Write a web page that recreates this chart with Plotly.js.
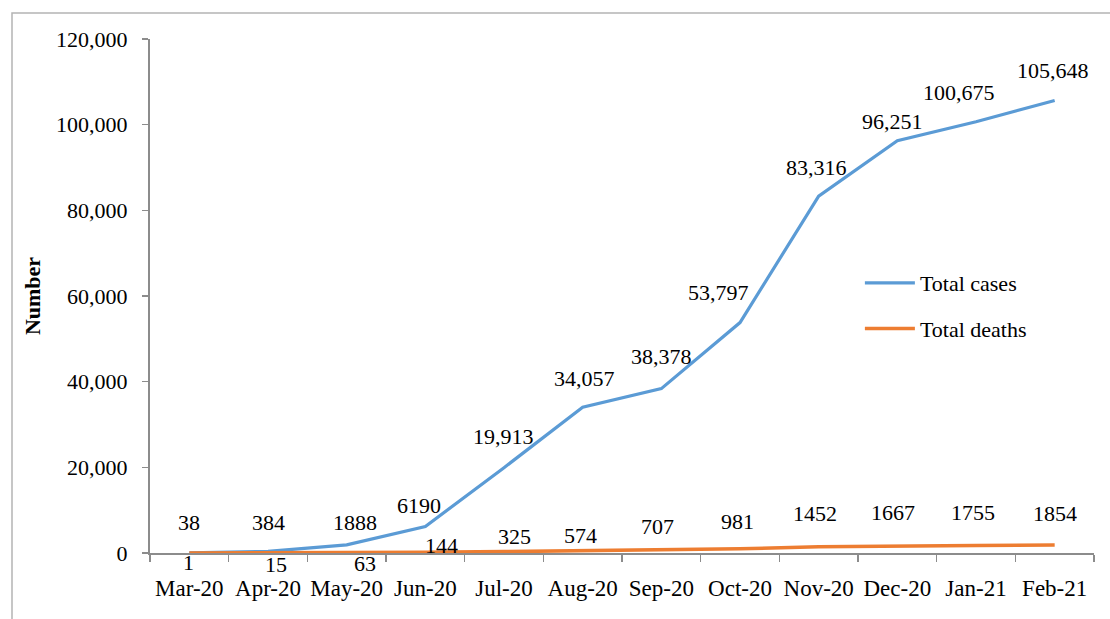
<!DOCTYPE html>
<html>
<head>
<meta charset="utf-8">
<script src="https://cdn.plot.ly/plotly-3.0.1.min.js"></script>
<style>
  html, body { margin: 0; padding: 0; background: #fff; }
  #chart { width: 1110px; height: 619px; }
</style>
</head>
<body>
<div id="chart"></div>
<script>
// ---- data ----
const months = ["Mar-20","Apr-20","May-20","Jun-20","Jul-20","Aug-20","Sep-20","Oct-20","Nov-20","Dec-20","Jan-21","Feb-21"];
const totalCases  = [38, 384, 1888, 6190, 19913, 34057, 38378, 53797, 83316, 96251, 100675, 105648];
const totalDeaths = [1, 15, 63, 144, 325, 574, 707, 981, 1452, 1667, 1755, 1854];
const yTicks = [0, 20000, 40000, 60000, 80000, 100000, 120000];

// ---- label placement tweaks (px offsets from each point) ----
const caseDx  = [0, 0, 8, -6, -1, 2, 0, -22, -2, -5, -17, -2];
const caseDy  = [30, 29, 22, 21, 31, 29, 32, 30, 29, 19, 29, 30];
const deathDx = [-1, 8, 18, 16, 10, -2, -4, -3, -4, -4, -3, 0];
const deathDy = [-9, -12, -11, 7, 15, 15, 23, 27, 33, 33, 33, 32];

const FONT = "'Liberation Serif', 'Times New Roman', serif";
const AXIS_COLOR = "#8c8c8c";
const fmt = v => v >= 10000 ? v.toLocaleString("en-US") : String(v);

const traces = [
  { x: months, y: totalCases, type: "scatter", mode: "lines", name: "Total cases",
    legendgroup: "a", line: { color: "#5B9BD5", width: 3.2 } },
  { x: months, y: totalDeaths, type: "scatter", mode: "lines", name: "Total deaths",
    legendgroup: "b", line: { color: "#ED7D31", width: 3.6 } }
];

const annotations = [];
months.forEach((m, i) => {
  annotations.push({ x: m, y: totalCases[i], xref: "x", yref: "y", text: fmt(totalCases[i]),
    showarrow: false, xshift: caseDx[i], yshift: caseDy[i], xanchor: "center", yanchor: "middle",
    font: { family: FONT, size: 22, color: "#000" } });
  annotations.push({ x: m, y: totalDeaths[i], xref: "x", yref: "y", text: fmt(totalDeaths[i]),
    showarrow: false, xshift: deathDx[i], yshift: deathDy[i], xanchor: "center", yanchor: "middle",
    font: { family: FONT, size: 22, color: "#000" } });
});

const layout = {
  width: 1110, height: 619,
  margin: { l: 150, r: 16, t: 39, b: 66 },
  paper_bgcolor: "#fff", plot_bgcolor: "#fff",
  font: { family: FONT, size: 22, color: "#000" },
  showlegend: true,
  legend: { x: 0.752, y: 0.566, xanchor: "left", yanchor: "top", tracegroupgap: 14,
    itemwidth: 50, bgcolor: "rgba(0,0,0,0)", font: { family: FONT, size: 22, color: "#000" } },
  xaxis: {
    type: "category", range: [-0.5, 11.5], tickson: "boundaries", tickangle: 0,
    showline: true, linecolor: AXIS_COLOR, linewidth: 2,
    ticks: "outside", ticklen: 7, tickcolor: AXIS_COLOR, tickwidth: 1.5,
    ticklabelstandoff: 13,
    showgrid: false, zeroline: false, fixedrange: true,
    tickfont: { family: FONT, size: 23, color: "#000" }
  },
  yaxis: {
    range: [0, 120000], tickvals: yTicks, tickformat: ",d",
    showline: true, linecolor: AXIS_COLOR, linewidth: 2,
    ticks: "outside", ticklen: 6, tickcolor: AXIS_COLOR, tickwidth: 1.5,
    ticklabelstandoff: 10,
    showgrid: false, zeroline: false, fixedrange: true,
    tickfont: { family: FONT, size: 22, color: "#000" },
    title: { text: "<b>Number</b>", standoff: 9, font: { family: FONT, size: 22, color: "#000" } }
  },
  shapes: [{
    type: "rect", xref: "paper", yref: "paper",
    x0: (12 - 150) / 944, x1: (1130 - 150) / 944,
    y0: (553 - 640) / 514, y1: (553 - 13) / 514,
    line: { color: "#b4b4b4", width: 1.5 }, fillcolor: "rgba(0,0,0,0)", layer: "below"
  }],
  annotations: annotations
};

Plotly.newPlot("chart", traces, layout, { displayModeBar: false, staticPlot: true });
</script>
</body>
</html>
